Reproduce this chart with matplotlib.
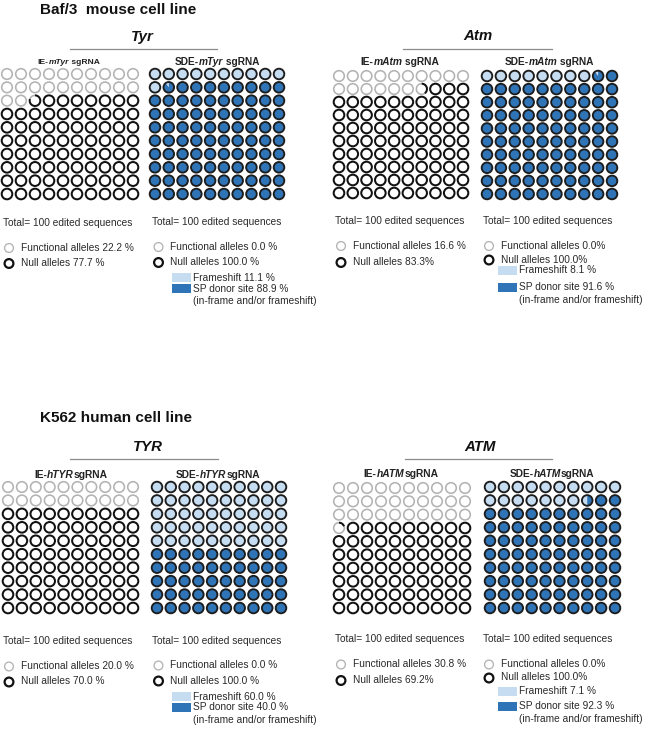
import numpy as np
import matplotlib.pyplot as plt
from matplotlib.patches import Circle, Arc, Wedge, Rectangle

plt.rcParams['font.family'] = ['Liberation Sans', 'DejaVu Sans']

# ---- data ----
genes = ["Tyr", "Atm", "TYR", "ATM"]
ie_names = [("IE-", "mTyr", " sgRNA"), ("IE-", "mAtm", " sgRNA"),
            ("IE-", "hTYR", "sgRNA"), ("IE-", "hATM", "sgRNA")]
sde_names = [("SDE-", "mTyr", " sgRNA"), ("SDE-", "mAtm", " sgRNA"),
             ("SDE-", "hTYR", "sgRNA"), ("SDE-", "hATM", "sgRNA")]
# number of circles (out of 100) drawn as functional / frameshift
ie_functional = [22.2, 16.6, 20.0, 30.8]
sde_frameshift = [11.1, 8.1, 50.0, 17.5]
# legend texts
ie_func_txt = ["22.2 %", "16.6 %", "20.0 %", "30.8 %"]
ie_null_txt = ["77.7 %", "83.3%", "70.0 %", "69.2%"]
sde_func_txt = ["0.0 %", "0.0%", "0.0 %", "0.0%"]
sde_null_txt = ["100.0 %", "100.0%", "100.0 %", "100.0%"]
frameshift_txt = ["11.1 %", "8.1 %", "60.0 %", "7.1 %"]
spdonor_txt = ["88.9 %", "91.6 %", "40.0 %", "92.3 %"]
cell_lines = ["Baf/3  mouse cell line", "K562 human cell line"]

GRAY = '#b3b3b3'
BLACK = '#111111'
LIGHT = '#c5dcf1'
DARK = '#2f74b6'
EDGE = '#1c1c1c'
TXT = '#2a2a2a'

W, H = 645, 729
fig = plt.figure(figsize=(W / 100, H / 100), dpi=100)
ax = fig.add_axes([0, 0, 1, 1])
ax.set_xlim(0, W)
ax.set_ylim(H, 0)
ax.axis('off')

# layout (pixels): first / last circle centres of each grid
ie_grid = [(7, 74, 133, 194), (339, 76, 463, 193), (8, 487, 133, 608), (339, 488, 465, 608)]
sde_grid = [(155, 74, 279, 194), (487, 76, 612, 194), (157, 487, 281, 608), (490, 487, 615, 608)]
R = 5.3


def grid_centres(box):
    x0, y0, x1, y1 = box
    cols = np.linspace(x0, x1, 10)
    rows = np.linspace(y0, y1, 10)
    return [(cols[i % 10], rows[i // 10]) for i in range(100)]


def draw_outline_grid(box, n_first):
    for i, (cx, cy) in enumerate(grid_centres(box)):
        f = np.clip(n_first - i, 0, 1)
        if f >= 1:
            ax.add_patch(Circle((cx, cy), R, fill=False, ec=GRAY, lw=1.15))
        elif f <= 0:
            ax.add_patch(Circle((cx, cy), R, fill=False, ec=BLACK, lw=1.45))
        else:
            a = 360 * f
            ax.add_patch(Arc((cx, cy), 2 * R, 2 * R, theta1=-90 - a, theta2=-90, ec=GRAY, lw=1.15))
            ax.add_patch(Arc((cx, cy), 2 * R, 2 * R, theta1=-90, theta2=270 - a, ec=BLACK, lw=1.45))


def draw_filled_grid(box, n_first):
    for i, (cx, cy) in enumerate(grid_centres(box)):
        f = np.clip(n_first - i, 0, 1)
        if f >= 1:
            ax.add_patch(Circle((cx, cy), R, fc=LIGHT, ec='none'))
        elif f <= 0:
            ax.add_patch(Circle((cx, cy), R, fc=DARK, ec='none'))
        else:
            a = 360 * f
            ax.add_patch(Wedge((cx, cy), R, -90 - a, -90, fc=LIGHT, ec='none'))
            ax.add_patch(Wedge((cx, cy), R, -90, 270 - a, fc=DARK, ec='none'))
        ax.add_patch(Circle((cx, cy), R, fill=False, ec=EDGE, lw=1.35))


renderer = fig.canvas.get_renderer()


def rich_label(xc, y, parts, size):
    styles = ['normal', 'italic', 'normal']
    texts = [ax.text(0, y, p, fontsize=size, fontweight='bold', fontstyle=s,
                     va='center', ha='left', color='#222222')
             for p, s in zip(parts, styles)]
    widths = [t.get_window_extent(renderer).width for t in texts]
    x = xc - sum(widths) / 2
    for t, w in zip(texts, widths):
        t.set_x(x)
        x += w


def legend_block(x, y, func_txt, null_txt, dy):
    ax.add_patch(Circle((x + 6, y + 25), 4.4, fill=False, ec=GRAY, lw=0.95))
    ax.text(x + 18, y + 24.5, "Functional alleles " + func_txt, fontsize=7.3, va='center', color=TXT)
    ax.add_patch(Circle((x + 6, y + 25 + dy), 4.4, fill=False, ec=BLACK, lw=1.6))
    ax.text(x + 18, y + 24.5 + dy, "Null alleles " + null_txt, fontsize=7.3, va='center', color=TXT)


# per-gene layout: title y, rule x-range, label y, legend origin
title_xy = [(142, 36.5), (478, 35.5), (148, 447), (480, 447)]
rule = [(70, 217, 48.5), (403, 552, 49), (70, 218, 459), (405, 552, 459)]
label_y = [62, 61.5, 475, 474]
ie_label_x = [69, 400, 71, 401]
sde_label_x = [217, 549, 218, 552]
label_size = [6.1, 7.4, 7.4, 7.4]
ie_text = [(3, 223), (335, 221), (3, 641.5), (335, 639.5)]
sde_text = [(152.5, 222), (483, 221), (152.5, 640.5), (483, 639.5)]
null_dy = [15.5, 16.5, 15.5, 16]
sde_null_dy = [15.5, 14, 15.5, 13.5]
box_x = [172, 498, 172, 498]
fs_y = [277.5, 270, 696.5, 691.5]
sp_gap = [11, 17, 11, 14.5]

for k, gene in enumerate(genes):
    ax.text(title_xy[k][0], title_xy[k][1], gene, fontsize=10.8, fontweight='bold',
            fontstyle='italic', ha='center', va='center', color='#111111')
    ax.plot([rule[k][0], rule[k][1]], [rule[k][2], rule[k][2]], color='#8c8c8c', lw=0.9)
    rich_label(ie_label_x[k], label_y[k], ie_names[k], label_size[k])
    rich_label(sde_label_x[k], label_y[k], sde_names[k], 7.3)

    draw_outline_grid(ie_grid[k], ie_functional[k])
    draw_filled_grid(sde_grid[k], sde_frameshift[k])

    # IE legend
    x, y = ie_text[k]
    ax.text(x, y, "Total= 100 edited sequences", fontsize=7.3, va='center', color=TXT)
    legend_block(x, y, ie_func_txt[k], ie_null_txt[k], null_dy[k])

    # SDE legend
    x, y = sde_text[k]
    ax.text(x, y, "Total= 100 edited sequences", fontsize=7.3, va='center', color=TXT)
    legend_block(x, y, sde_func_txt[k], sde_null_txt[k], sde_null_dy[k])

    bx = box_x[k]
    ax.add_patch(Rectangle((bx, fs_y[k] - 4.5), 18.5, 9, fc=LIGHT, ec='none'))
    ax.text(bx + 21, fs_y[k], "Frameshift " + frameshift_txt[k], fontsize=7.3, va='center', color=TXT)
    sp_y = fs_y[k] + sp_gap[k]
    ax.add_patch(Rectangle((bx, sp_y - 4.5), 18.5, 9, fc=DARK, ec='none'))
    ax.text(bx + 21, sp_y, "SP donor site " + spdonor_txt[k], fontsize=7.3, va='center', color=TXT)
    ax.text(bx + 21, sp_y + 12.5, "(in-frame and/or frameshift)", fontsize=7.3, va='center', color=TXT)

ax.text(40, 9.5, cell_lines[0], fontsize=11, fontweight='bold', va='center', color='#111111')
ax.text(40, 418, cell_lines[1], fontsize=11, fontweight='bold', va='center', color='#111111')

fig.savefig('out.png', dpi=100)
